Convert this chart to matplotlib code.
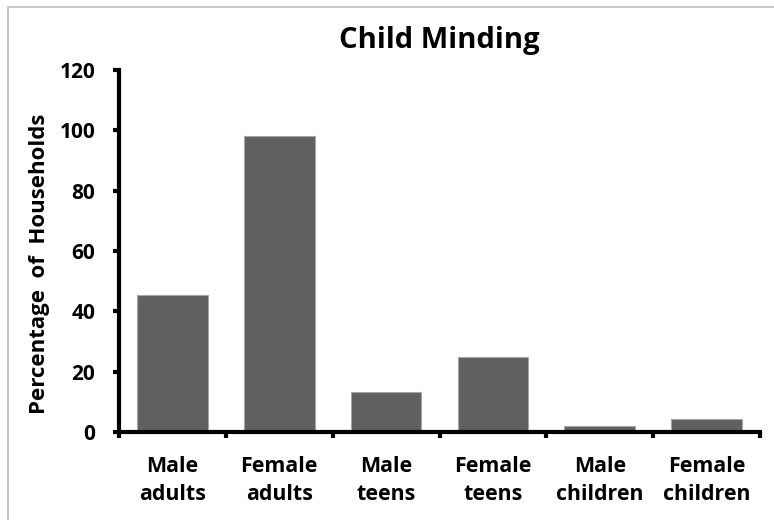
import numpy as np
import matplotlib.pyplot as plt
from matplotlib.patches import Rectangle

# data
categories = ['Male\nadults', 'Female\nadults', 'Male\nteens', 'Female\nteens',
              'Male\nchildren', 'Female\nchildren']
percent = [45.5, 98.0, 13.4, 24.9, 1.9, 4.2]
yticks = [0, 20, 40, 60, 80, 100, 120]

plt.rcParams['font.family'] = ['Open Sans', 'DejaVu Sans']
plt.rcParams['font.weight'] = 'bold'

fig = plt.figure(figsize=(7.74, 5.2), dpi=100)
ax = fig.add_axes([119 / 774, 88 / 520, 641 / 774, 362 / 520])

# thin gray frame round the chart area
fig.patches.append(Rectangle((8 / 774, -0.1), 1.0, 1.1 - 7 / 520, transform=fig.transFigure,
                             fill=False, edgecolor='#bfbfbf', linewidth=1.2))

x = np.arange(len(categories))
ax.bar(x, percent, width=0.66, color='#606060', edgecolor='#a6a6a6', linewidth=0.8)

ax.set_xlim(-0.5, len(categories) - 0.5)
ax.set_ylim(0, 120)
ax.set_yticks(yticks)
ax.set_yticklabels([str(t) for t in yticks], fontsize=15, fontweight='bold')

# category labels between boundary ticks
ax.set_xticks(x)
ax.set_xticklabels(categories, fontsize=15.4, fontweight='bold', linespacing=1.45)
ax.tick_params(axis='x', which='major', length=0, pad=17)
ax.set_xticks(np.arange(len(categories) + 1) - 0.5, minor=True)
ax.tick_params(axis='x', which='minor', length=4, width=3, direction='out')
ax.tick_params(axis='y', length=4, width=3, direction='out', pad=13)

for side in ['top', 'right']:
    ax.spines[side].set_visible(False)
for side in ['left', 'bottom']:
    ax.spines[side].set_linewidth(3)

ax.set_ylabel('Percentage  of  Households', fontsize=16, fontweight='bold')
ax.yaxis.set_label_coords(-(119 - 50) / 641, (432 - 264) / 362)
ax.set_title('Child Minding', fontsize=21, fontweight='bold', pad=16)

fig.savefig('out.png', dpi=100)
